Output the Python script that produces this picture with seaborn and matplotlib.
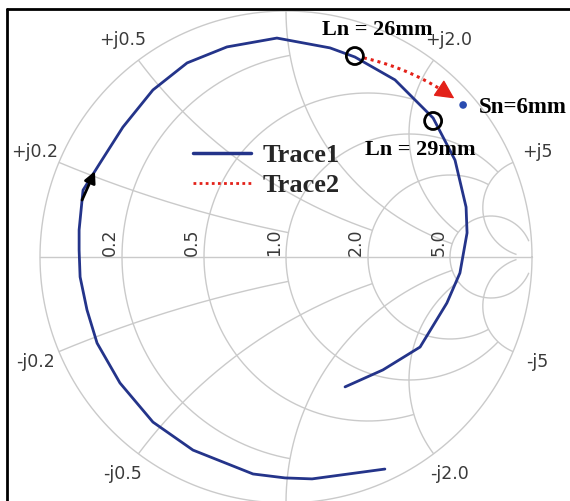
import numpy as np
import matplotlib
matplotlib.use("Agg")
import matplotlib.pyplot as plt
from matplotlib.lines import Line2D
import seaborn as sns

# Measured S11 (reflection coefficient), real and imaginary parts, in sweep order
s11_re = [0.402, 0.106, -0.004, -0.134, -0.378, -0.541, -0.675, -0.768, -0.809,
          -0.837, -0.841, -0.841, -0.825, -0.756, -0.663, -0.541, -0.402, -0.240,
          -0.037, 0.179, 0.280, 0.443, 0.598, 0.687, 0.732, 0.736, 0.707, 0.654,
          0.545, 0.394, 0.240]
s11_im = [-0.862, -0.902, -0.898, -0.882, -0.785, -0.671, -0.512, -0.350, -0.215,
          -0.081, 0.028, 0.110, 0.272, 0.382, 0.528, 0.679, 0.789, 0.854,
          0.890, 0.850, 0.813, 0.720, 0.565, 0.394, 0.203, 0.098, -0.065, -0.187,
          -0.366, -0.459, -0.528]

# Marked line lengths on the trace
marker_re = [0.280, 0.598]
marker_im = [0.817, 0.553]
marker_labels = ["Ln = 26mm", "Ln = 29mm"]

# Target point
sn_re = 0.720
sn_im = 0.618
sn_label = "Sn=6mm"

# Smith chart grid: circle values and the value at which each one stops
grid_values = [0.2, 0.5, 1.0, 2.0, 5.0]
grid_limits = [1.0, 2.0, 5.0, 5.0, 30.0]
resistance_labels = ["0.2", "0.5", "1.0", "2.0", "5.0"]
labeled_reactances = [0.2, 0.5, 2.0, 5.0]
reactance_labels = ["j0.2", "j0.5", "j2.0", "j5"]

series_names = ["Trace1", "Trace2"]

sns.set_theme(style="white")
plt.rcParams["font.family"] = ["DejaVu Sans"]

W, H = 570, 501
CX, CY, R = 286, 257, 246  # chart centre and radius in pixels

fig = plt.figure(figsize=(W / 100, H / 100), dpi=100)
ax = fig.add_axes([0, 0, 1, 1])
ax.set_xlim(-CX / R, (W - CX) / R)
ax.set_ylim((CY - H) / R, CY / R)
ax.axis("off")

grid_c = "#cacaca"
grid_lw = 1.0


def gamma(z):
    return (z - 1) / (z + 1)


def draw_z(z):
    g = gamma(z)
    ax.plot(g.real, g.imag, color=grid_c, lw=grid_lw, zorder=1, solid_capstyle="butt")


# outer boundary and real axis
t = np.linspace(0, 2 * np.pi, 720)
ax.plot(np.cos(t), np.sin(t), color=grid_c, lw=grid_lw, zorder=1)
ax.plot([-1, 1], [0, 0], color=grid_c, lw=grid_lw, zorder=1)

for v, lim in zip(grid_values, grid_limits):
    # constant resistance circle, |x| <= lim
    xs = np.linspace(-lim, lim, 4000)
    draw_z(v + 1j * xs)
    # constant reactance arcs, r <= lim
    rs = np.concatenate([np.linspace(0, 1, 400), np.geomspace(1, max(lim, 1.0001), 1500)])
    draw_z(rs + 1j * v)
    draw_z(rs - 1j * v)

label_c = "#3a3a3a"
for r, lab in zip(grid_values, resistance_labels):
    gx = gamma(r)
    ax.annotate(lab, (gx, 0), xytext=(-2, 1), textcoords="offset points",
                rotation=90, ha="right", va="bottom", fontsize=12.5, color=label_c)

for x, lab in zip(labeled_reactances, reactance_labels):
    for s, sign in ((1, "+"), (-1, "-")):
        g = gamma(1j * s * x)
        ax.text(1.105 * g.real, 1.105 * g.imag, sign + lab, ha="center",
                va="center", fontsize=12.5, color=label_c)

trace_c = "#24348a"
sns.lineplot(x=s11_re, y=s11_im, sort=False, estimator=None, color=trace_c,
             lw=2.0, ax=ax, legend=False, zorder=3)

# direction arrow on the trace
p11 = np.array([s11_re[11], s11_im[11]])
p12 = np.array([s11_re[12], s11_im[12]])
p13 = np.array([s11_re[13], s11_im[13]])
tail = p11 + 0.75 * (p12 - p11)
tip = p12 + 0.7 * (p13 - p12)
ax.annotate("", xy=tip, xytext=tail,
            arrowprops=dict(arrowstyle="-|>", color="black", lw=2.0,
                            mutation_scale=17, shrinkA=0, shrinkB=0), zorder=4)

# Trace2: curved path from Ln = 26mm towards Sn (quadratic Bezier)
red = "#e32119"
A = np.array([marker_re[0], marker_im[0]])
B = np.array([sn_re, sn_im])
d = B - A
C = (A + B) / 2 + (-0.12) * np.array([d[1], -d[0]])
tt = np.linspace(0, 1, 400)[:, None]
curve = (1 - tt) ** 2 * A + 2 * tt * (1 - tt) * C + tt ** 2 * B
dist_a = np.hypot(*(curve - A).T) * R
dist_b = np.hypot(*(curve - B).T) * R
tip_i = np.argmax(dist_b < 11)           # arrow tip 11 px before Sn
base_i = np.argmax(dist_b < 11 + 14)     # head length about 14 px
start_i = np.argmax(dist_a > 9)          # start at the edge of the marker
shaft = curve[start_i:base_i + 1]
ax.plot(shaft[:, 0], shaft[:, 1], color=red, lw=2.2, linestyle=(0, (1, 1.3)),
        zorder=4)
ax.annotate("", xy=curve[tip_i], xytext=curve[base_i],
            arrowprops=dict(arrowstyle="-|>", color=red, lw=1.0,
                            mutation_scale=30, shrinkA=0, shrinkB=0), zorder=4)

sns.scatterplot(x=marker_re, y=marker_im, s=150, facecolor="none",
                edgecolor="black", linewidth=2.0, ax=ax, legend=False, zorder=5)
sns.scatterplot(x=[sn_re], y=[sn_im], s=30, color="#2a4cb0", edgecolor="none",
                ax=ax, legend=False, zorder=5)

serif_bold = dict(family=["Liberation Serif"], weight="bold")
ax.annotate(marker_labels[0], (marker_re[0], marker_im[0]), xytext=(16, 19),
            textcoords="offset points", ha="center", va="center", fontsize=16,
            color="black", zorder=6, **serif_bold)
ax.annotate(marker_labels[1], (marker_re[1], marker_im[1]), xytext=(-9, -21),
            textcoords="offset points", ha="center", va="center", fontsize=16,
            color="black", zorder=6, **serif_bold)
ax.annotate(sn_label, (sn_re, sn_im), xytext=(11, -2),
            textcoords="offset points", ha="left", va="center", fontsize=16.5,
            color="black", zorder=6, **serif_bold)

handles = [Line2D([], [], color=trace_c, lw=2.5),
           Line2D([], [], color=red, lw=2.0, linestyle=(0, (1, 1.2)))]
leg = ax.legend(handles, series_names, loc="upper left",
                bbox_to_anchor=(193 / W, 1 - 144 / H), bbox_transform=fig.transFigure,
                frameon=False, borderpad=0, borderaxespad=0, handlelength=2.2,
                handletextpad=0.45, labelspacing=0.22,
                prop=dict(family="Liberation Serif", weight="bold", size=19))

# frame edges
fig.add_artist(Line2D([7 / W, 1], [1 - 9 / H, 1 - 9 / H], color="black", lw=2,
                      transform=fig.transFigure))
fig.add_artist(Line2D([7 / W, 7 / W], [0, 1 - 9 / H], color="black", lw=2,
                      transform=fig.transFigure))

fig.savefig("out.png", dpi=100)
